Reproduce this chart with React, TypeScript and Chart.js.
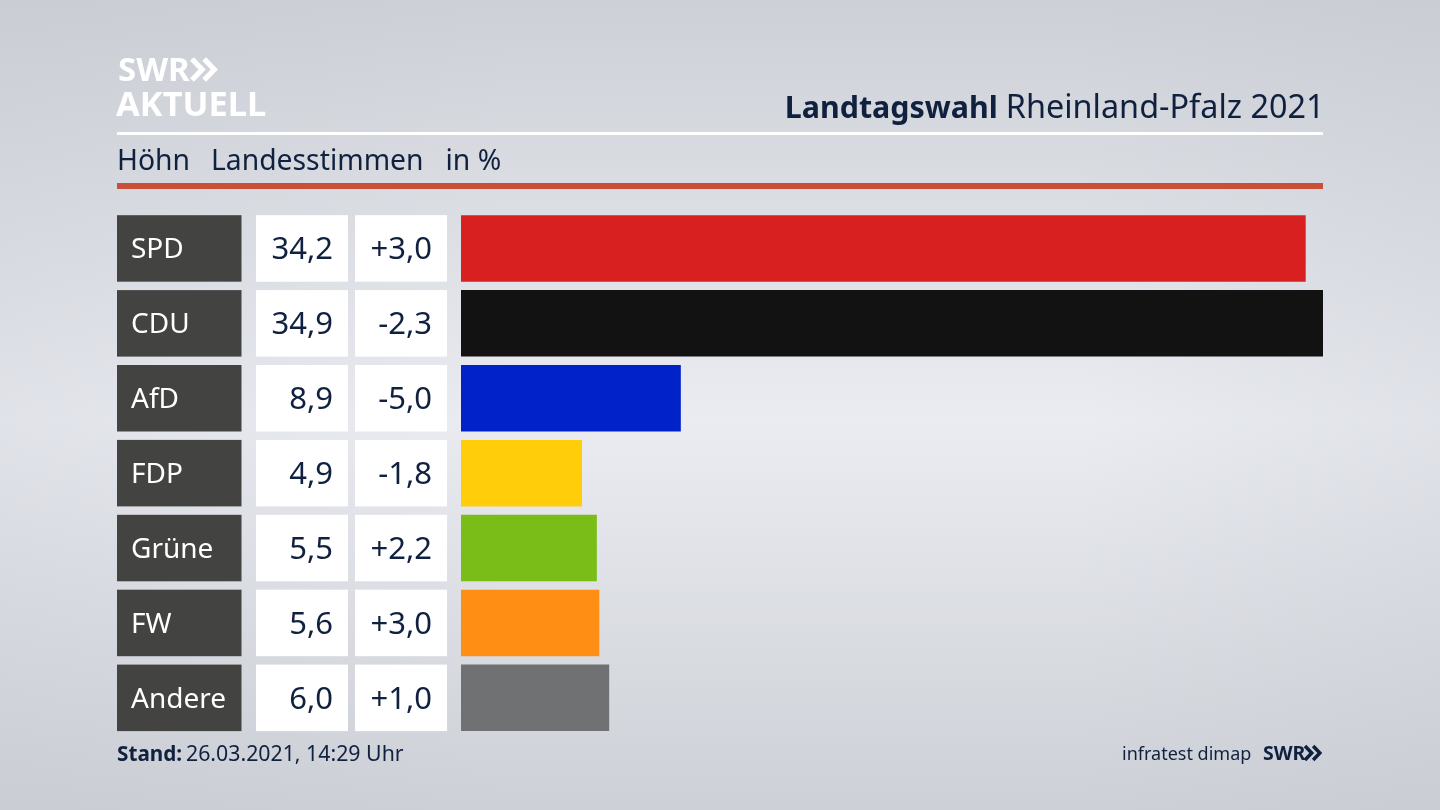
import React, { useEffect, useRef } from "react";
import { Chart, registerables } from "chart.js";

Chart.register(...registerables);

const parties = ["SPD", "CDU", "AfD", "FDP", "Grüne", "FW", "Andere"];
const shares = [34.2, 34.9, 8.9, 4.9, 5.5, 5.6, 6.0];
const changes = ["+3,0", "-2,3", "-5,0", "-1,8", "+2,2", "+3,0", "+1,0"];
const barColors = ["#d7201f", "#121212", "#0022c8", "#ffcd0a", "#7abd18", "#ff8f14", "#707173"];

const FONT = '"Noto Sans"';
const INK = "#10213f";

function chevrons(ctx: CanvasRenderingContext2D, x: number, y: number, h: number, color: string) {
  ctx.strokeStyle = color;
  ctx.lineWidth = h * 0.25;
  ctx.lineJoin = "miter";
  for (let i = 0; i < 2; i++) {
    const dx = x + i * h * 0.58;
    ctx.beginPath();
    ctx.moveTo(dx, y);
    ctx.lineTo(dx + h * 0.48, y + h / 2);
    ctx.lineTo(dx, y + h);
    ctx.stroke();
  }
}

const frame = {
  id: "frame",
  beforeDraw(chart: any) {
    const ctx: CanvasRenderingContext2D = chart.ctx;
    const yScale = chart.scales.y;
    ctx.save();
    const bg = ctx.createLinearGradient(0, 0, 0, 810);
    bg.addColorStop(0, "#cdd0d6");
    bg.addColorStop(0.52, "#eaecf1");
    bg.addColorStop(1, "#cdd0d6");
    ctx.fillStyle = bg;
    ctx.fillRect(0, 0, 1440, 810);
    const edge = ctx.createLinearGradient(0, 0, 1440, 0);
    edge.addColorStop(0, "rgba(190,194,204,0.22)");
    edge.addColorStop(0.35, "rgba(190,194,204,0)");
    edge.addColorStop(0.75, "rgba(190,194,204,0)");
    edge.addColorStop(1, "rgba(190,194,204,0.22)");
    ctx.fillStyle = edge;
    ctx.fillRect(0, 0, 1440, 810);

    ctx.fillStyle = "#ffffff";
    ctx.fillRect(117, 132, 1206, 3);
    ctx.fillStyle = "#cb4f38";
    ctx.fillRect(117, 183, 1206, 6);

    ctx.textBaseline = "alphabetic";
    ctx.textAlign = "left";
    ctx.fillStyle = "#ffffff";
    ctx.font = `bold 33px ${FONT}`;
    ctx.fillText("SWR", 118, 81);
    ctx.font = `bold 34.4px ${FONT}`;
    ctx.fillText("AKTUELL", 116, 116);
    chevrons(ctx, 192, 59, 21, "#ffffff");

    ctx.fillStyle = INK;
    ctx.font = `28.3px ${FONT}`;
    ctx.fillText("Höhn", 117, 170);
    ctx.fillText("Landesstimmen", 211, 170);
    ctx.fillText("in %", 445.5, 170);

    ctx.textAlign = "right";
    ctx.font = `32.4px ${FONT}`;
    const tail = "Rheinland-Pfalz 2021";
    ctx.fillText(tail, 1324.5, 118);
    const tailW = ctx.measureText(tail).width;
    ctx.font = `bold 30.4px ${FONT}`;
    ctx.fillText("Landtagswahl", 1324.5 - tailW - 8, 118);

    const half = 33.25;
    parties.forEach((_, i) => {
      const c = yScale.getPixelForValue(i);
      ctx.fillStyle = "#434341";
      ctx.fillRect(117, c - half, 124.5, half * 2);
      ctx.fillStyle = "#ffffff";
      ctx.fillRect(256, c - half, 92, half * 2);
      ctx.fillRect(355, c - half, 92, half * 2);
      ctx.fillStyle = INK;
      ctx.font = `31px ${FONT}`;
      ctx.textAlign = "right";
      ctx.textBaseline = "middle";
      ctx.fillText(shares[i].toFixed(1).replace(".", ","), 333, c + 2);
      ctx.fillText(changes[i], 432, c + 2);
    });

    ctx.textBaseline = "alphabetic";
    ctx.textAlign = "left";
    ctx.fillStyle = INK;
    ctx.font = `bold 20.7px ${FONT}`;
    ctx.fillText("Stand:", 117, 761);
    ctx.font = `21.3px ${FONT}`;
    ctx.fillText("26.03.2021, 14:29 Uhr", 186, 761);
    ctx.font = `18px ${FONT}`;
    ctx.fillText("infratest dimap", 1122, 760);
    ctx.font = `bold 19.5px ${FONT}`;
    ctx.fillText("SWR", 1263, 760);
    chevrons(ctx, 1305, 746, 14, INK);
    ctx.restore();
  },
};

export default function App() {
  const ref = useRef<HTMLCanvasElement>(null);
  useEffect(() => {
    const chart = new Chart(ref.current!, {
      type: "bar",
      data: {
        labels: parties,
        datasets: [
          {
            data: shares,
            backgroundColor: barColors,
            borderWidth: 0,
            barPercentage: 66.5 / 74.9,
            categoryPercentage: 1,
          },
        ],
      },
      options: {
        indexAxis: "y",
        animation: false,
        responsive: false,
        layout: { padding: { left: 131, right: 117, top: 211, bottom: 74.7 } },
        plugins: { legend: { display: false }, tooltip: { enabled: false } },
        scales: {
          x: { display: false, min: 0, max: 34.9 },
          y: {
            afterFit(scale: any) {
              scale.width = 330;
            },
            grid: { display: false },
            border: { display: false },
            ticks: {
              crossAlign: "far",
              color: "#ffffff",
              labelOffset: 2,
              font: { family: "Noto Sans", size: 28 },
            },
          },
        },
      },
      plugins: [frame],
    } as any);
    return () => chart.destroy();
  }, []);
  return (
    <div style={{ position: "fixed", left: 0, top: 0, width: 1440, height: 810 }}>
      <canvas ref={ref} width={1440} height={810} style={{ display: "block" }} />
    </div>
  );
}
